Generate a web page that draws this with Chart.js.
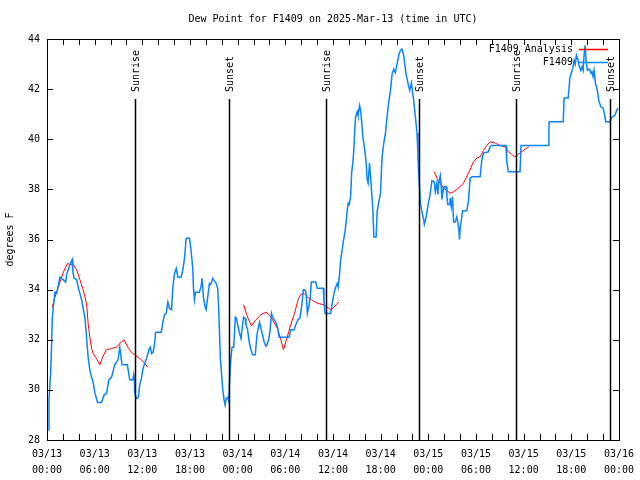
<!DOCTYPE html>
<html>
<head>
<meta charset="utf-8">
<script src="https://cdn.jsdelivr.net/npm/chart.js@4.4.1/dist/chart.umd.min.js"></script>
<style>
  html, body { margin: 0; padding: 0; background: #fff; }
</style>
</head>
<body>
<canvas id="dewChart" width="640" height="480"></canvas>
<script>
// observed dew point (hours since 03/13 00:00 UTC, degrees F)
const obsHours = [
  0.16, 0.25, 0.46, 0.59, 0.66, 0.79, 1.0, 1.22, 1.63, 2.04, 2.35, 2.47, 2.89, 3.17, 3.25, 3.42,
  3.73, 3.93, 4.14, 4.35, 4.55, 4.77, 4.98, 5.18, 5.39, 5.61, 5.81, 6.02, 6.36, 6.86, 7.19, 7.49,
  7.78, 8.12, 8.53, 8.94, 9.16, 9.45, 10.12, 10.41, 10.8, 10.91, 11.0, 11.04, 11.25, 11.5, 11.67, 11.88,
  12.08, 12.29, 12.58, 12.83, 13.0, 13.17, 13.35, 13.55, 13.67, 14.39, 14.59, 14.8, 15.0, 15.22, 15.43, 15.68,
  15.84, 16.06, 16.27, 16.47, 16.9, 17.1, 17.31, 17.52, 17.94, 18.15, 18.35, 18.44, 18.56, 18.69, 19.19, 19.41,
  19.53, 19.69, 19.91, 20.03, 20.23, 20.45, 20.6, 20.86, 21.05, 21.29, 21.49, 21.61, 21.83, 21.99, 22.11, 22.29,
  22.42, 22.54, 22.74, 22.88, 22.96, 23.04, 23.17, 23.29, 23.5, 23.71, 23.85, 24.0, 24.21, 24.42, 24.62, 24.75,
  24.95, 25.05, 25.25, 25.46, 25.68, 25.88, 26.22, 26.43, 26.59, 26.76, 26.93, 27.13, 27.35, 27.56, 27.7, 27.97,
  28.1, 28.26, 28.39, 28.6, 28.81, 29.01, 29.23, 30.48, 30.69, 31.11, 31.32, 31.61, 31.86, 32.02, 32.15, 32.27,
  32.45, 32.6, 32.7, 32.78, 32.95, 33.12, 33.28, 33.83, 34.03, 34.78, 34.87, 35.0, 35.71, 35.91, 36.13, 36.34,
  36.54, 36.65, 36.84, 36.97, 37.17, 37.29, 37.51, 37.67, 37.79, 37.92, 38.05, 38.22, 38.35, 38.51, 38.63, 38.76,
  38.85, 39.05, 39.15, 39.35, 39.45, 39.6, 39.76, 40.01, 40.18, 40.3, 40.43, 40.6, 40.73, 40.86, 41.02, 41.14,
  41.43, 41.56, 41.77, 41.98, 42.18, 42.4, 42.61, 42.81, 43.03, 43.24, 43.44, 43.65, 43.85, 44.07, 44.28, 44.49,
  44.69, 44.91, 45.03, 45.2, 45.37, 45.53, 45.66, 45.87, 46.16, 46.37, 46.58, 46.7, 46.79, 46.91, 47.0, 47.2,
  47.42, 47.5, 47.7, 47.83, 48.04, 48.17, 48.33, 48.46, 48.76, 48.88, 49.08, 49.21, 49.3, 49.51, 49.63, 49.71,
  49.84, 50.01, 50.26, 50.34, 50.46, 50.7, 50.76, 50.89, 51.05, 51.18, 51.39, 51.59, 51.7, 51.84, 51.93, 52.02,
  52.22, 52.31, 52.85, 53.06, 53.27, 53.47, 54.53, 54.73, 54.94, 55.57, 55.78, 55.98, 57.79, 57.86, 58.08, 59.55,
  59.67, 63.1, 63.18, 63.22, 64.98, 65.1, 65.61, 65.82, 66.02, 66.23, 66.36, 66.5, 66.65, 66.86, 67.0, 67.2,
  67.35, 67.49, 67.61, 67.74, 67.86, 68.03, 68.3, 68.45, 68.6, 68.74, 68.87, 69.03, 69.28, 69.46, 69.71, 70.0,
  70.21, 70.34, 70.84, 71.05, 71.25, 71.46, 71.66, 71.87
];
const obsValues = [
  28.4, 29.6, 30.7, 31.9, 32.8, 33.3, 33.9, 33.85, 34.5, 34.4, 34.3, 34.6, 35.0, 35.2, 34.7, 34.45,
  34.4, 34.1, 33.85, 33.6, 33.25, 32.9, 32.1, 31.3, 30.8, 30.5, 30.3, 29.9, 29.5, 29.5, 29.8, 29.85,
  30.4, 30.5, 31.0, 31.2, 31.7, 31.0, 31.0, 30.4, 30.4, 30.6, 30.4, 29.9, 29.65, 29.7, 30.2, 30.45,
  30.85, 31.05, 31.3, 31.6, 31.7, 31.45, 31.5, 31.85, 32.3, 32.3, 32.7, 33.0, 33.05, 33.5, 33.25, 33.2,
  34.1, 34.65, 34.85, 34.5, 34.5, 34.8, 35.25, 36.05, 36.05, 35.5, 34.85, 34.05, 33.6, 33.9, 33.9, 34.15,
  34.45, 33.7, 33.3, 33.2, 33.7, 34.25, 34.2, 34.45, 34.35, 34.25, 34.05, 33.25, 31.25, 30.6, 30.05, 29.6,
  29.4, 29.65, 29.7, 29.55, 30.2, 30.7, 31.3, 31.7, 31.7, 32.9, 32.85, 32.6, 32.3, 32.05, 32.6, 32.9,
  32.85, 32.6, 32.4, 31.9, 31.6, 31.4, 31.4, 32.2, 32.45, 32.7, 32.45, 32.2, 31.9, 31.75, 31.8, 32.1,
  32.45, 33.05, 32.9, 32.8, 32.7, 32.5, 32.1, 32.1, 32.4, 32.4, 32.6, 32.8, 32.9, 33.25, 33.6, 34.0,
  34.0, 33.9, 33.45, 33.05, 33.3, 33.65, 34.3, 34.3, 34.05, 34.05, 33.5, 33.05, 33.05, 33.45, 33.85, 34.1,
  34.25, 34.1, 34.65, 35.2, 35.6, 35.9, 36.3, 36.75, 37.15, 37.45, 37.4, 37.7, 38.65, 39.1, 39.6, 40.5,
  40.9, 41.1, 40.95, 41.35, 41.2, 40.75, 40.1, 39.55, 39.05, 38.4, 38.25, 39.05, 38.5, 37.95, 37.2, 36.1,
  36.1, 37.1, 37.5, 37.85, 39.3, 39.85, 40.25, 40.9, 41.5, 41.95, 42.6, 42.8, 42.65, 43.0, 43.35, 43.55,
  43.6, 43.35, 43.0, 42.6, 42.35, 42.1, 41.95, 42.25, 41.55, 40.9, 40.25, 39.3, 38.65, 38.0, 37.45, 37.1,
  36.8, 36.6, 36.85, 37.1, 37.5, 37.7, 38.05, 38.35, 38.3, 37.9, 38.25, 37.8, 38.25, 38.55, 38.15, 37.6,
  37.9, 38.1, 38.1, 37.7, 37.4, 37.4, 37.65, 37.3, 37.7, 36.7, 36.7, 36.9, 36.7, 36.4, 36.0, 36.5,
  36.9, 37.15, 37.15, 37.55, 38.45, 38.5, 38.5, 39.15, 39.45, 39.5, 39.7, 39.75, 39.75, 39.15, 38.7, 38.7,
  39.75, 39.75, 40.4, 40.7, 40.7, 41.65, 41.65, 42.45, 42.65, 42.9, 43.15, 43.0, 43.35, 43.15, 42.9, 42.75,
  42.9, 42.75, 43.35, 43.75, 43.15, 42.75, 42.8, 42.65, 42.7, 42.5, 42.75, 42.25, 41.95, 41.55, 41.3, 41.25,
  40.95, 40.7, 40.7, 40.85, 40.9, 40.95, 41.1, 41.25
];

// analysis runs, null marks a break between runs
const analysisHours = [
  0.66, 1.0, 1.42, 1.84, 2.26, 2.6, 2.89, 3.3, 3.73, 4.14, 4.55, 4.98, 5.18, 5.39, 5.61, 5.81,
  6.23, 6.65, 7.06, 7.49, 8.12, 8.74, 9.16, 9.7, 10.2, 10.62, 11.04, 11.67, 12.2, 12.7,
  null,
  24.75, 25.25, 25.75, 26.3, 26.93, 27.56, 27.97, 28.39, 29.01, 29.44, 29.77, 30.19, 30.69, 31.2, 31.61, 31.95,
  32.36, 32.78, 33.28, 34.03, 34.87, 35.5, 35.79, 36.13, 36.54, 36.75,
  null,
  48.76, 49.17, 49.59, 50.14, 50.76, 51.18, 51.81, 52.43, 53.06, 53.69, 54.1, 54.53, 54.94, 55.36, 55.78, 56.41,
  57.04, 57.66, 58.08, 58.49, 58.83, 59.12, 59.55, 60.17, 60.68
];
const analysisValues = [
  33.3, 33.7, 34.1, 34.5, 34.85, 35.05, 35.0, 35.0, 34.8, 34.4, 34.0, 33.45, 32.65, 32.1, 31.65, 31.45,
  31.25, 31.0, 31.35, 31.6, 31.65, 31.7, 31.85, 32.0, 31.7, 31.5, 31.4, 31.25, 31.1, 30.9,
  null,
  33.4, 32.9, 32.55, 32.8, 33.0, 33.1, 33.0, 32.8, 32.45, 32.0, 31.6, 32.05, 32.6, 33.1, 33.6, 33.8,
  33.85, 33.7, 33.6, 33.45, 33.4, 33.25, 33.2, 33.3, 33.45, 33.5,
  null,
  38.7, 38.4, 38.2, 38.0, 37.85, 37.9, 38.05, 38.25, 38.65, 39.1, 39.25, 39.3, 39.55, 39.75, 39.9, 39.85,
  39.75, 39.7, 39.5, 39.4, 39.3, 39.35, 39.45, 39.6, 39.7
];

const sunHours = [11.04, 22.85, 35.1, 46.85, 59.07, 70.9];
const sunLabels = ["Sunrise", "Sunset", "Sunrise", "Sunset", "Sunrise", "Sunset"];

const dayLabels = ["03/13", "03/13", "03/13", "03/13", "03/14", "03/14", "03/14", "03/14",
  "03/15", "03/15", "03/15", "03/15", "03/16"];
const timeLabels = ["00:00", "06:00", "12:00", "18:00", "00:00", "06:00", "12:00", "18:00",
  "00:00", "06:00", "12:00", "18:00", "00:00"];

const chartTitle = "Dew Point for F1409 on 2025-Mar-13 (time in UTC)";

const FONT = "'DejaVu Sans Mono', 'Liberation Mono', monospace";

function toPoints(xs, ys) {
  return xs.map((x, i) => (x === null ? { x: NaN, y: null } : { x: x, y: ys[i] }));
}

// frame, inward ticks, sunrise/sunset markers, title and legend, gnuplot style
const decorations = {
  id: "decorations",
  afterDatasetsDraw(chart) {
    const ctx = chart.ctx;
    const area = chart.chartArea;
    const xs = chart.scales.x;
    const ys = chart.scales.y;
    ctx.save();

    // title, centred over the plot
    ctx.fillStyle = "#000";
    ctx.font = "10px " + FONT;
    ctx.textAlign = "center";
    ctx.textBaseline = "middle";
    ctx.fillText(chartTitle, (area.left + area.right) / 2, 19);

    // sun lines
    ctx.strokeStyle = "#000";
    ctx.lineWidth = 1.5;
    sunHours.forEach((h, i) => {
      const px = Math.round(xs.getPixelForValue(h)) + 0.5;
      ctx.beginPath();
      ctx.moveTo(px, area.top + 60);
      ctx.lineTo(px, area.bottom);
      ctx.stroke();
      ctx.save();
      ctx.translate(px, area.top + 53);
      ctx.rotate(-Math.PI / 2);
      ctx.textAlign = "left";
      ctx.textBaseline = "middle";
      ctx.fillText(sunLabels[i], 0, 1);
      ctx.restore();
    });

    // frame
    ctx.lineWidth = 1;
    ctx.strokeRect(Math.round(area.left) + 0.5, Math.round(area.top) + 0.5,
      Math.round(area.right - area.left), Math.round(area.bottom - area.top));

    // inward ticks
    ctx.beginPath();
    for (let h = 0; h <= 72; h += 2) {
      const px = Math.round(xs.getPixelForValue(h)) + 0.5;
      ctx.moveTo(px, area.bottom);
      ctx.lineTo(px, area.bottom - 6);
      ctx.moveTo(px, area.top);
      ctx.lineTo(px, area.top + 6);
    }
    ys.ticks.forEach((t) => {
      const py = Math.round(ys.getPixelForValue(t.value)) + 0.5;
      ctx.moveTo(area.left, py);
      ctx.lineTo(area.left + 6, py);
      ctx.moveTo(area.right, py);
      ctx.lineTo(area.right - 6, py);
    });
    ctx.stroke();

    // legend
    const order = [1, 0];
    ctx.textAlign = "right";
    ctx.textBaseline = "middle";
    ctx.lineWidth = 1.5;
    order.forEach((di, row) => {
      const ds = chart.data.datasets[di];
      const y = area.top + 10.5 + row * 13;
      ctx.fillStyle = "#000";
      ctx.fillText(ds.label, area.right - 46, y);
      ctx.strokeStyle = ds.borderColor;
      ctx.beginPath();
      ctx.moveTo(area.right - 40, y);
      ctx.lineTo(area.right - 11, y);
      ctx.stroke();
    });

    ctx.restore();
  }
};

new Chart(document.getElementById("dewChart"), {
  type: "line",
  data: {
    datasets: [
      {
        label: "F1409",
        data: toPoints(obsHours, obsValues),
        borderColor: "#0a84ff",
        borderWidth: 1.5,
        pointRadius: 0,
        tension: 0,
      },
      {
        label: "F1409 Analysis",
        data: toPoints(analysisHours, analysisValues),
        borderColor: "#ff0000",
        borderWidth: 1,
        pointRadius: 0,
        tension: 0,
        spanGaps: false,
      },
    ],
  },
  options: {
    responsive: false,
    animation: false,
    parsing: false,
    layout: { padding: { left: 0, right: 19, top: 39, bottom: 0 } },
    plugins: {
      legend: { display: false },
      tooltip: { enabled: false },
      title: { display: false },
    },
    scales: {
      x: {
        type: "linear",
        min: 0,
        max: 72,
        grid: { display: false, drawTicks: false },
        border: { display: false },
        afterFit: (s) => { s.height = 40; },
        ticks: {
          stepSize: 6,
          autoSkip: false,
          maxRotation: 0,
          padding: 6,
          color: "#000",
          font: { family: FONT, size: 10, lineHeight: 1.6 },
          callback: (v) => {
            const i = Math.round(v / 6);
            return [dayLabels[i], timeLabels[i]];
          },
        },
      },
      y: {
        min: 28,
        max: 44,
        grid: { display: false, drawTicks: false },
        border: { display: false },
        afterFit: (s) => { s.width = 47; },
        title: {
          display: true,
          text: "degrees F",
          color: "#000",
          font: { family: FONT, size: 10 },
          padding: 4,
        },
        ticks: {
          stepSize: 2,
          padding: 7,
          color: "#000",
          font: { family: FONT, size: 10 },
        },
      },
    },
  },
  plugins: [decorations],
});
</script>
</body>
</html>
